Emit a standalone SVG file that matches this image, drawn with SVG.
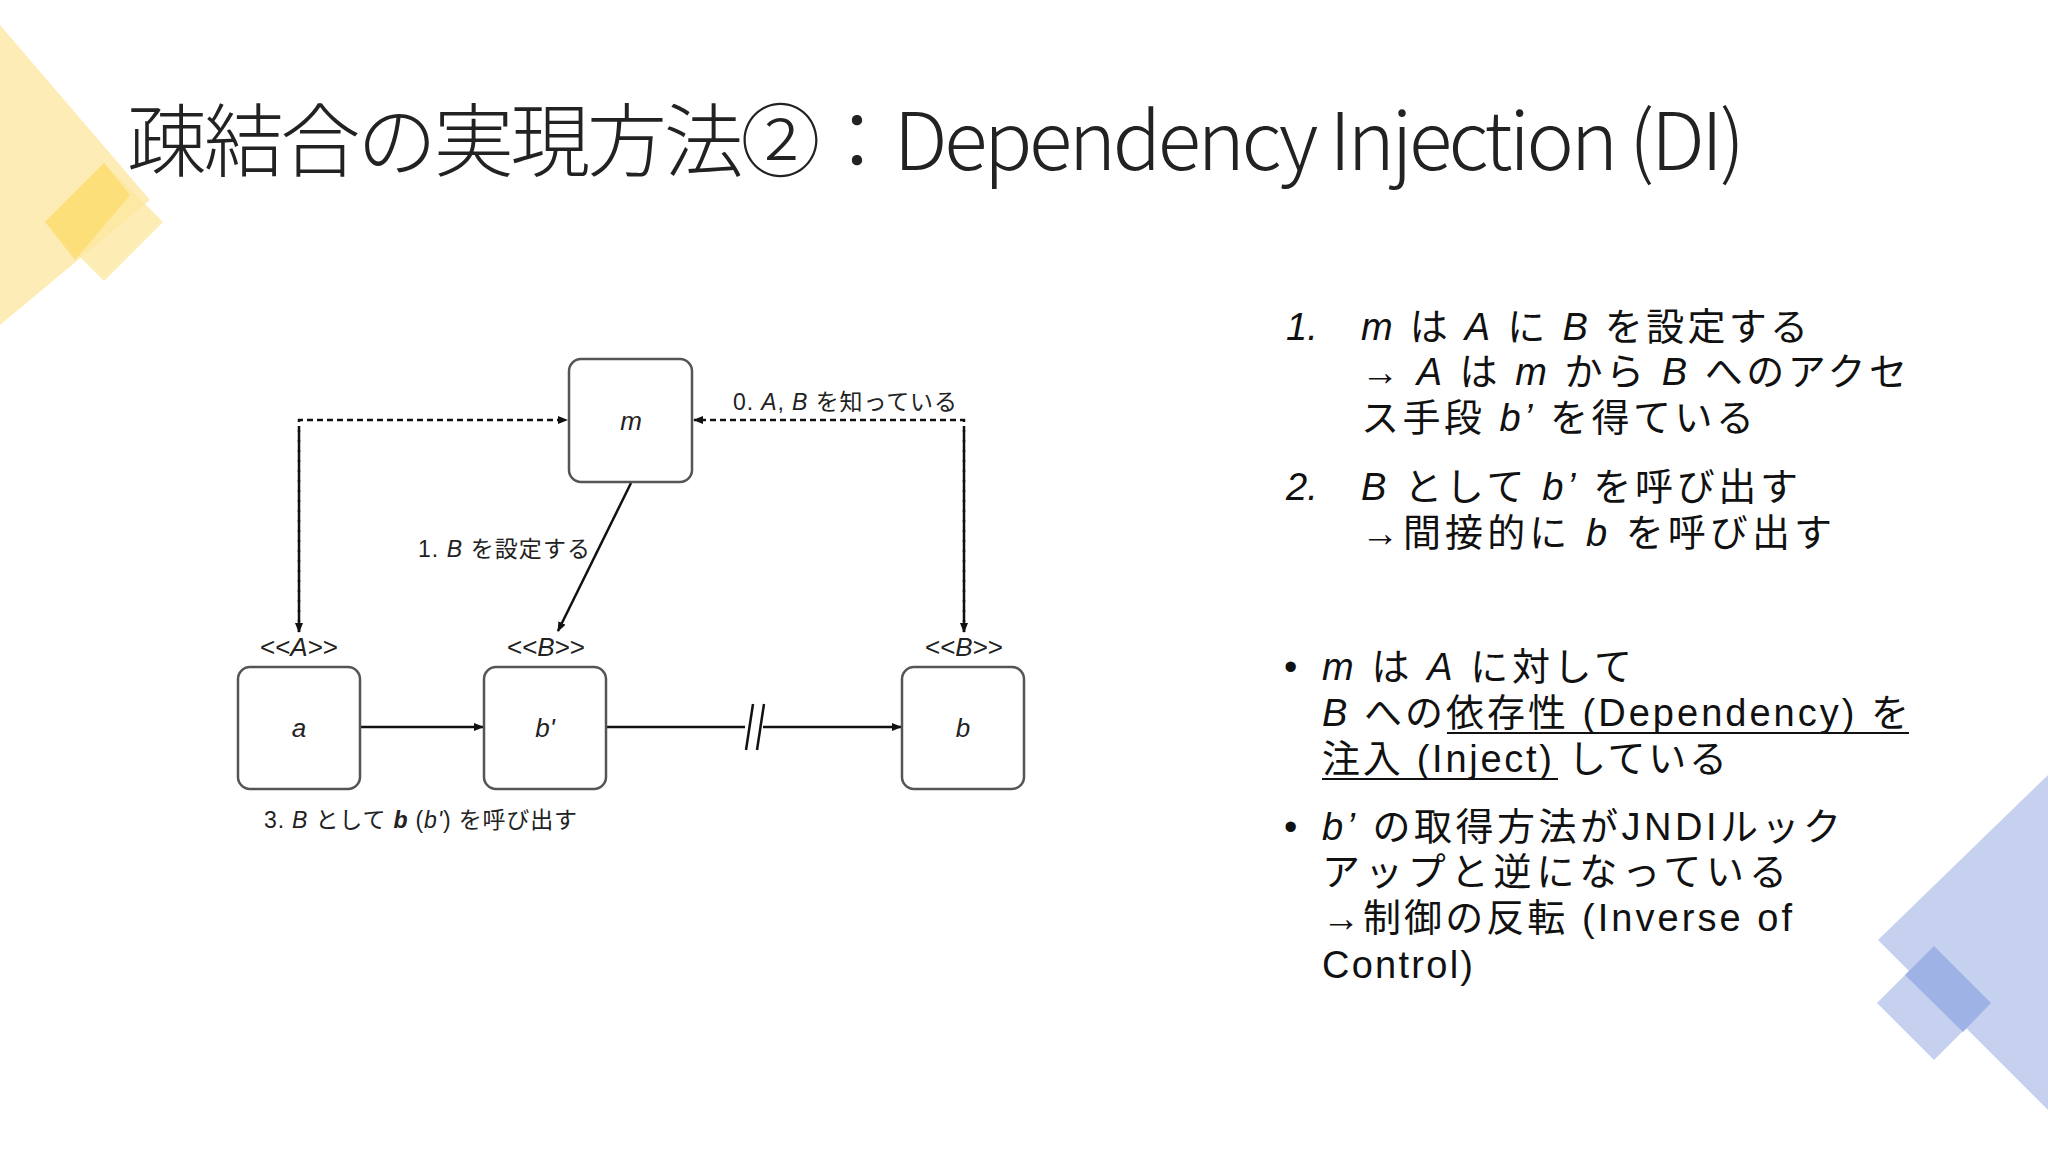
<svg xmlns="http://www.w3.org/2000/svg" width="2048" height="1152" viewBox="0 0 2048 1152">
<style>
.box{fill:#fff;stroke:#555;stroke-width:2.5}
.lbl{font-family:"Liberation Sans",Arial,"Noto Sans CJK JP",sans-serif;font-size:23px;fill:#222}
.tag{font-family:"Liberation Sans",Arial,sans-serif;font-size:26px;fill:#222;text-anchor:middle}
.it{font-style:italic}
.node{font-family:"Liberation Sans",Arial,sans-serif;font-size:26px;font-style:italic;fill:#222;text-anchor:middle}
.body{font-family:"Liberation Sans",Arial,"Noto Sans CJK JP",sans-serif;font-size:38px;fill:#111}
.ln{stroke:#111;stroke-width:2.5;fill:none}
.dash{stroke:#111;stroke-width:2.5;fill:none;stroke-dasharray:6 4}
</style>
<defs>
<marker id="ah" markerWidth="10" markerHeight="10" refX="9" refY="5" orient="auto" markerUnits="userSpaceOnUse"><path d="M0,1 L10,5 L0,9 z" fill="#111"/></marker>
</defs>
<rect width="2048" height="1152" fill="#fff"/>
<g id="deco">
<polygon points="0,25 150,200 0,325" fill="#fde9a8" opacity="0.85"/>
<polygon points="45,222 104,163 163,222 104,281" fill="#fde7a0" opacity="0.8"/>
<polygon points="45,222 104,163 130,195 75,260" fill="#fcd85e" opacity="0.6"/>
<polygon points="2048,775 1878,940 2048,1110" fill="#c6d1ef"/>
<polygon points="1877,1003 1934,946 1991,1003 1934,1060" fill="#c6d1ef"/>
<polygon points="1905,975 1934,946 1991,1003 1963,1032" fill="#9fb2e6"/>
</g>
<text x="127" y="170" style="font-family:'Noto Sans CJK JP',sans-serif;font-weight:300;font-size:80px;fill:#222" textLength="1618">疎結合の実現方法②：Dependency Injection (DI)</text>
<g id="connectors">
<polyline class="dash" points="299,632 299,420 567,420" marker-end="url(#ah)"/>
<line class="dash" x1="299" y1="430" x2="299" y2="632" marker-end="url(#ah)"/>
<polyline class="dash" points="964,632 964,420 694,420" marker-end="url(#ah)"/>
<line class="dash" x1="964" y1="430" x2="964" y2="632" marker-end="url(#ah)"/>
<line class="ln" x1="631" y1="483" x2="558" y2="631" marker-end="url(#ah)"/>
<line class="ln" x1="360" y1="727" x2="483" y2="727" marker-end="url(#ah)"/>
<line class="ln" x1="606" y1="727" x2="745" y2="727"/>
<line class="ln" x1="763" y1="727" x2="901" y2="727" marker-end="url(#ah)"/>
<line class="ln" x1="746" y1="750" x2="753" y2="704"/>
<line class="ln" x1="757" y1="750" x2="764" y2="704"/>
</g>
<text class="lbl" x="733" y="410" textLength="224">0. <tspan class="it">A</tspan>, <tspan class="it">B</tspan> を知っている</text>
<text class="lbl" x="418" y="557" textLength="172">1. <tspan class="it">B</tspan> を設定する</text>
<text class="lbl" x="264" y="828" textLength="313">3. <tspan class="it">B</tspan> として <tspan class="it" font-weight="bold">b</tspan> (<tspan class="it">b'</tspan>) を呼び出す</text>
<g id="m"><rect class="box" x="569" y="359" width="123" height="123" rx="12"/><text class="node" x="631" y="430">m</text></g>
<g id="a"><text class="tag" x="299" y="656">&lt;&lt;<tspan class="it">A</tspan>&gt;&gt;</text><rect class="box" x="238" y="667" width="122" height="122" rx="12"/><text class="node" x="299" y="737">a</text></g>
<g id="bprime"><text class="tag" x="546" y="656">&lt;&lt;<tspan class="it">B</tspan>&gt;&gt;</text><rect class="box" x="484" y="667" width="122" height="122" rx="12"/><text class="node" x="545" y="737">b'</text></g>
<g id="b"><text class="tag" x="964" y="656">&lt;&lt;<tspan class="it">B</tspan>&gt;&gt;</text><rect class="box" x="902" y="667" width="122" height="122" rx="12"/><text class="node" x="963" y="737">b</text></g>
<g id="text">
<text class="body it" x="1286" y="340">1.</text>
<text class="body" x="1361" y="340" textLength="447"><tspan class="it">m</tspan> は <tspan class="it">A</tspan> に <tspan class="it">B</tspan> を設定する</text>
<text class="body" x="1361" y="385" textLength="546">→ <tspan class="it">A</tspan> は <tspan class="it">m</tspan> から <tspan class="it">B</tspan> へのアクセ</text>
<text class="body" x="1361" y="431" textLength="393">ス手段 <tspan class="it">b’</tspan> を得ている</text>
<text class="body it" x="1286" y="500">2.</text>
<text class="body" x="1361" y="500" textLength="437"><tspan class="it">B</tspan> として <tspan class="it">b’</tspan> を呼び出す</text>
<text class="body" x="1361" y="546" textLength="471">→間接的に <tspan class="it">b</tspan> を呼び出す</text>
<text class="body" x="1284" y="680">•</text>
<text class="body" x="1322" y="680" textLength="310"><tspan class="it">m</tspan> は <tspan class="it">A</tspan> に対して</text>
<text class="body" x="1322" y="726" textLength="587"><tspan class="it">B</tspan> への依存性 (Dependency) を</text>
<line x1="1447" y1="733" x2="1909" y2="733" stroke="#111" stroke-width="2"/>
<text class="body" x="1322" y="772" textLength="405">注入 (Inject) している</text>
<line x1="1322" y1="779" x2="1558" y2="779" stroke="#111" stroke-width="2"/>
<text class="body" x="1284" y="840">•</text>
<text class="body" x="1322" y="840" textLength="519"><tspan class="it">b’</tspan> の取得方法がJNDIルック</text>
<text class="body" x="1322" y="885" textLength="465">アップと逆になっている</text>
<text class="body" x="1322" y="931" textLength="470">→制御の反転 (Inverse of</text>
<text class="body" x="1322" y="978" textLength="151">Control)</text>
</g>
</svg>
